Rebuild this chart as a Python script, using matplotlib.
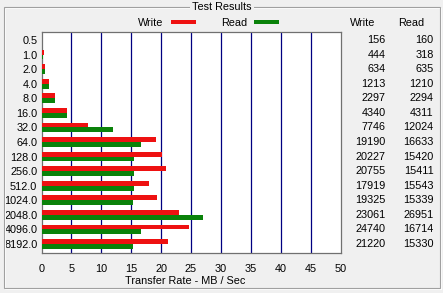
import matplotlib
matplotlib.use("Agg")
import matplotlib.pyplot as plt
from matplotlib.patches import Rectangle
import numpy as np

# ---- data ----
block_sizes = ["0.5", "1.0", "2.0", "4.0", "8.0", "16.0", "32.0", "64.0", "128.0",
               "256.0", "512.0", "1024.0", "2048.0", "4096.0", "8192.0"]
write_kb = [156, 444, 634, 1213, 2297, 4340, 7746, 19190, 20227, 20755, 17919,
            19325, 23061, 24740, 21220]
read_kb = [160, 318, 635, 1210, 2294, 4311, 12024, 16633, 15420, 15411, 15543,
           15339, 26951, 16714, 15330]
x_ticks = [0, 5, 10, 15, 20, 25, 30, 35, 40, 45, 50]
x_label = "Transfer Rate - MB / Sec"
title = "Test Results"
series_names = ["Write", "Read"]

RED = "#ee1111"
GREEN = "#0a820a"
BG = "#f0f0f0"
FONT = "Liberation Sans"
FS = 7.8

W, H = 443, 293
fig = plt.figure(figsize=(W / 100, H / 100), dpi=100, facecolor=BG)
plt.rcParams['font.family'] = [FONT, 'DejaVu Sans']

def fx(px):
    return px / W

def fy(py):
    return 1 - py / H

ax_left, ax_right, ax_top, ax_bottom = 41.5, 340.5, 31.7, 252.7
ax = fig.add_axes([fx(ax_left), fy(ax_bottom), (ax_right - ax_left) / W,
                   (ax_bottom - ax_top) / H])
ax.set_facecolor("white")

n = len(block_sizes)
y = np.arange(n)
wmb = np.array(write_kb) / 1000.0
rmb = np.array(read_kb) / 1000.0
bh = 0.333
ax.barh(y - bh / 2, wmb, height=bh, color=RED, linewidth=0, zorder=3)
ax.barh(y + bh / 2, rmb, height=bh, color=GREEN, linewidth=0, zorder=3)

ax.set_xlim(0, 50)
ax.set_ylim(n - 1 + 0.6, -0.57)
ax.set_xticks(x_ticks)
ax.set_xticklabels([str(t) for t in x_ticks], fontsize=FS, family=FONT)
ax.set_yticks(y)
ax.set_yticklabels(block_sizes, fontsize=FS, family=FONT)
ax.tick_params(axis="x", length=0, pad=8.0)
ax.tick_params(axis="y", length=0, pad=3.0)
for t in x_ticks[1:-1]:
    ax.axvline(t, color="#000080", linewidth=0.9, zorder=2)
for s in ax.spines.values():
    s.set_color("#707070")
    s.set_linewidth(0.9)

# right-hand value columns
tr = ax.get_yaxis_transform()
wx = (385.5 - ax_left) / (ax_right - ax_left)
rx = (433.5 - ax_left) / (ax_right - ax_left)
for i in range(n):
    ax.text(wx, y[i], str(write_kb[i]), transform=tr, ha="right", va="center",
            fontsize=FS, family=FONT, clip_on=False)
    ax.text(rx, y[i], str(read_kb[i]), transform=tr, ha="right", va="center",
            fontsize=FS, family=FONT, clip_on=False)

# headers
fig.text(fx(362.5), fy(22.5), series_names[0], ha="center", va="center", fontsize=FS, family=FONT)
fig.text(fx(411), fy(22.5), series_names[1], ha="center", va="center", fontsize=FS, family=FONT)

# legend
fig.text(fx(163.5), fy(22.5), series_names[0], ha="right", va="center", fontsize=FS, family=FONT)
fig.patches.append(Rectangle((fx(171), fy(24)), fx(25), 4 / H, transform=fig.transFigure,
                             facecolor=RED, edgecolor="none"))
fig.text(fx(247.5), fy(22.5), series_names[1], ha="right", va="center", fontsize=FS, family=FONT)
fig.patches.append(Rectangle((fx(254), fy(24)), fx(25), 4 / H, transform=fig.transFigure,
                             facecolor=GREEN, edgecolor="none"))

# group box frame
fig.patches.append(Rectangle((fx(3.5), fy(288)), fx(436), (288 - 7) / H, transform=fig.transFigure,
                             facecolor="none", edgecolor="#a0a0a0", linewidth=0.8))
fig.patches.append(Rectangle((fx(4.5), fy(289)), fx(436), (288 - 7) / H, transform=fig.transFigure,
                             facecolor="none", edgecolor="white", linewidth=0.8, zorder=0))
fig.text(fx(222), fy(6.5), title, ha="center", va="center", fontsize=FS, family=FONT,
         bbox=dict(facecolor=BG, edgecolor="none", pad=1.5))

fig.text(fx(185.5), fy(280.5), x_label, ha="center", va="center", fontsize=FS, family=FONT)

fig.savefig("out.png", dpi=100, facecolor=BG)
